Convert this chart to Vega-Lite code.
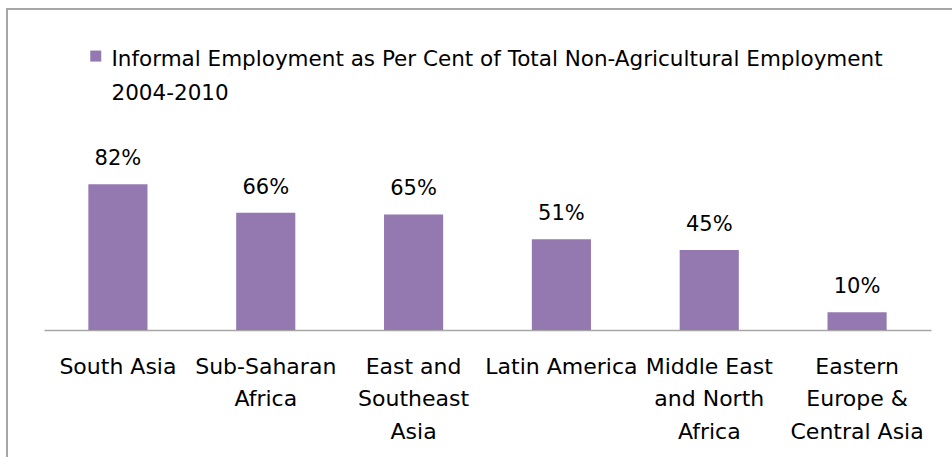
{
  "$schema": "https://vega.github.io/schema/vega-lite/v6.json",
  "width": 950,
  "height": 460,
  "autosize": "none",
  "padding": {"left": 7, "top": 9, "right": -5, "bottom": -12},
  "background": "white",
  "config": {
    "view": {"stroke": "#a6a6a6", "strokeWidth": 2},
    "font": "DejaVu Sans",
    "style": {"guide-label": {"lineHeight": 34}}
  },
  "data": {
    "values": [
      {"region": "South Asia", "value": 0.82, "series": "Informal Employment as Per Cent of Total Non-Agricultural Employment 2004-2010"},
      {"region": "Sub-Saharan Africa", "value": 0.66, "series": "Informal Employment as Per Cent of Total Non-Agricultural Employment 2004-2010"},
      {"region": "East and Southeast Asia", "value": 0.65, "series": "Informal Employment as Per Cent of Total Non-Agricultural Employment 2004-2010"},
      {"region": "Latin America", "value": 0.51, "series": "Informal Employment as Per Cent of Total Non-Agricultural Employment 2004-2010"},
      {"region": "Middle East and North Africa", "value": 0.45, "series": "Informal Employment as Per Cent of Total Non-Agricultural Employment 2004-2010"},
      {"region": "Eastern Europe & Central Asia", "value": 0.10, "series": "Informal Employment as Per Cent of Total Non-Agricultural Employment 2004-2010"}
    ]
  },
  "encoding": {
    "x": {
      "field": "region",
      "type": "nominal",
      "sort": null,
      "scale": {"range": [37, 924], "paddingInner": 0.6, "paddingOuter": 0.3},
      "axis": {
        "title": null,
        "offset": -139,
        "ticks": false,
        "domainColor": "#a6a6a6",
        "domainWidth": 1.5,
        "labelAngle": 0,
        "labelColor": "#000000",
        "labelFont": "DejaVu Sans",
        "labelFontSize": 22,
        "labelPadding": 26,
        "labelBaseline": "top",
        "labelLineHeight": 32.5,
        "labelLimit": 300,
        "labelExpr": "{'Sub-Saharan Africa': ['Sub-Saharan', 'Africa'], 'East and Southeast Asia': ['East and', 'Southeast', 'Asia'], 'Middle East and North Africa': ['Middle East', 'and North', 'Africa'], 'Eastern Europe & Central Asia': ['Eastern', 'Europe &', 'Central Asia']}[datum.label] || datum.label"
      }
    },
    "y": {
      "field": "value",
      "type": "quantitative",
      "scale": {"domain": [0, 0.9], "range": [321, 161], "nice": false, "zero": true},
      "axis": null
    }
  },
  "layer": [
    {
      "mark": {"type": "bar"},
      "encoding": {
        "color": {
          "field": "series",
          "type": "nominal",
          "scale": {"range": ["#9479B0"]},
          "legend": {
            "title": null,
            "orient": "none",
            "legendX": 78,
            "legendY": 29.5,
            "padding": 0,
            "symbolType": "M-1,0.24H1V2.24H-1Z",
            "symbolSize": 121,
            "symbolStrokeWidth": 0,
            "symbolOpacity": 1,
            "labelFont": "DejaVu Sans",
            "labelFontSize": 21.5,
            "labelColor": "#000000",
            "labelBaseline": "top",
            "labelOffset": 5,
            "labelLimit": 900,
            "labelExpr": "['Informal Employment as Per Cent of Total Non-Agricultural Employment', '2004-2010']"
          }
        }
      }
    },
    {
      "mark": {"type": "text", "baseline": "alphabetic", "dy": -19, "font": "DejaVu Sans", "fontSize": 21, "color": "#000000"},
      "encoding": {
        "text": {"field": "value", "type": "quantitative", "format": ".0%"}
      }
    }
  ]
}
